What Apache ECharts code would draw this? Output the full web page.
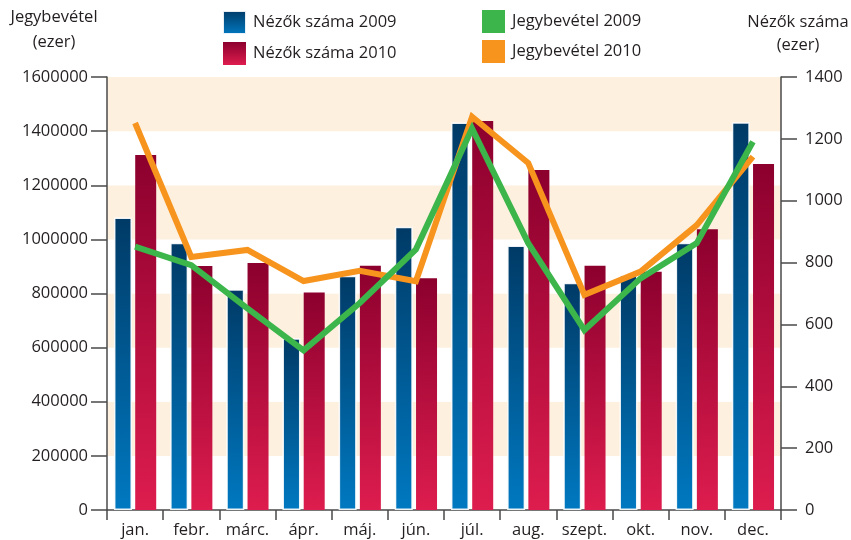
<!DOCTYPE html>
<html>
<head>
<meta charset="utf-8">
<script src="https://cdn.jsdelivr.net/npm/echarts@6/dist/echarts.min.js"></script>
<style>
  html, body { margin: 0; padding: 0; background: #ffffff; }
  #chart { width: 851px; height: 540px; }
</style>
</head>
<body>
<div id="chart"></div>
<script>
// Hónapok
const months = ['jan.', 'febr.', 'márc.', 'ápr.', 'máj.', 'jún.', 'júl.', 'aug.', 'szept.', 'okt.', 'nov.', 'dec.'];

// Nézők száma (ezer) – jobb oldali tengely
const viewers2009 = [946, 864, 714, 555, 757, 916, 1253, 855, 735, 760, 864, 1254];
const viewers2010 = [1148, 789, 799, 703, 790, 749, 1258, 1099, 790, 770, 908, 1119];

// Jegybevétel (ezer) – bal oldali tengely
const revenue2009 = [973000, 905000, 745000, 590000, 765000, 963000, 1410000, 986000, 665000, 856000, 986000, 1361000];
const revenue2010 = [1430000, 935000, 961000, 846000, 884000, 845000, 1453000, 1282000, 795000, 881000, 1053000, 1306000];

// Tengelyhatárok
const revenueMax = 1600000, revenueStep = 200000;
const viewersMax = 1400, viewersStep = 200;

const FONT = '"Open Sans", "Noto Sans", sans-serif';
const TEXT = '#231f20';
const AXIS = '#4a4a4a';
const FS = 16.5;

const blueGrad = new echarts.graphic.LinearGradient(0, 0, 0, 1, [
  { offset: 0, color: '#003a66' },
  { offset: 1, color: '#0079c1' }
]);
const redGrad = new echarts.graphic.LinearGradient(0, 0, 0, 1, [
  { offset: 0, color: '#8c002e' },
  { offset: 1, color: '#dd1d4e' }
]);

const plain = v => String(v);

const chart = echarts.init(document.getElementById('chart'), null, { renderer: 'canvas' });

const legendBase = {
  orient: 'vertical', top: 10, padding: 0,
  itemWidth: 23, itemHeight: 23, itemGap: 7,
  icon: 'rect',
  textStyle: { fontFamily: FONT, fontSize: FS, color: TEXT, padding: [0, 0, 0, 2] }
};

chart.setOption({
  animation: false,
  backgroundColor: '#ffffff',
  textStyle: { fontFamily: FONT, color: TEXT },
  grid: { left: 107, right: 70, top: 77, bottom: 30, containLabel: false },
  legend: [
    Object.assign({}, legendBase, { left: 222, data: ['Nézők száma 2009', 'Nézők száma 2010'] }),
    Object.assign({}, legendBase, { left: 482, data: ['Jegybevétel 2009', 'Jegybevétel 2010'] })
  ],
  graphic: [
    { type: 'text', x: 54, y: 17, style: { text: 'Jegybevétel', font: FS + 'px ' + FONT, fill: TEXT, textAlign: 'center', textVerticalAlign: 'middle' } },
    { type: 'text', x: 54, y: 42, style: { text: '(ezer)', font: FS + 'px ' + FONT, fill: TEXT, textAlign: 'center', textVerticalAlign: 'middle' } },
    { type: 'text', x: 798, y: 22, style: { text: 'Nézők száma', font: FS + 'px ' + FONT, fill: TEXT, textAlign: 'center', textVerticalAlign: 'middle' } },
    { type: 'text', x: 798, y: 45, style: { text: '(ezer)', font: FS + 'px ' + FONT, fill: TEXT, textAlign: 'center', textVerticalAlign: 'middle' } }
  ],
  xAxis: {
    type: 'category',
    data: months,
    boundaryGap: true,
    axisLine: { show: true, lineStyle: { color: AXIS, width: 1.5 } },
    axisTick: { show: true, interval: 0, length: 10, alignWithLabel: false, lineStyle: { color: AXIS, width: 1.5 } },
    axisLabel: { interval: 0, margin: 12, fontSize: FS, color: TEXT, fontFamily: FONT },
    splitLine: { show: false }
  },
  yAxis: [
    {
      type: 'value', min: 0, max: revenueMax, interval: revenueStep,
      position: 'left',
      axisLine: { show: true, lineStyle: { color: AXIS, width: 1.5 } },
      axisTick: { show: true, length: 16, lineStyle: { color: AXIS, width: 1.5 } },
      axisLabel: { margin: 19, fontSize: FS, color: TEXT, fontFamily: FONT, formatter: plain },
      splitLine: { show: false },
      splitArea: { show: true, areaStyle: { color: ['#ffffff', '#fdf0df'] } }
    },
    {
      type: 'value', min: 0, max: viewersMax, interval: viewersStep,
      position: 'right',
      axisLine: { show: true, lineStyle: { color: AXIS, width: 1.5 } },
      axisTick: { show: true, length: 16, lineStyle: { color: AXIS, width: 1.5 } },
      axisLabel: { margin: 24, fontSize: FS, color: TEXT, fontFamily: FONT, formatter: plain },
      splitLine: { show: false },
      splitArea: { show: false }
    }
  ],
  series: [
    {
      name: 'Nézők száma 2009', type: 'bar', yAxisIndex: 1,
      data: viewers2009,
      barWidth: 18, barGap: '18%',
      itemStyle: { color: blueGrad, borderColor: 'rgba(255,255,255,0.9)', borderWidth: 1.5 }
    },
    {
      name: 'Nézők száma 2010', type: 'bar', yAxisIndex: 1,
      data: viewers2010,
      barWidth: 21,
      itemStyle: { color: redGrad }
    },
    {
      name: 'Jegybevétel 2010', type: 'line', yAxisIndex: 0,
      data: revenue2010,
      symbol: 'none', smooth: false,
      lineStyle: { color: '#f7941d', width: 6, join: 'miter', cap: 'butt' },
      itemStyle: { color: '#f7941d' },
      z: 3
    },
    {
      name: 'Jegybevétel 2009', type: 'line', yAxisIndex: 0,
      data: revenue2009,
      symbol: 'none', smooth: false,
      lineStyle: { color: '#3cb54a', width: 6, join: 'miter', cap: 'butt' },
      itemStyle: { color: '#3cb54a' },
      z: 4
    }
  ]
});
</script>
</body>
</html>
